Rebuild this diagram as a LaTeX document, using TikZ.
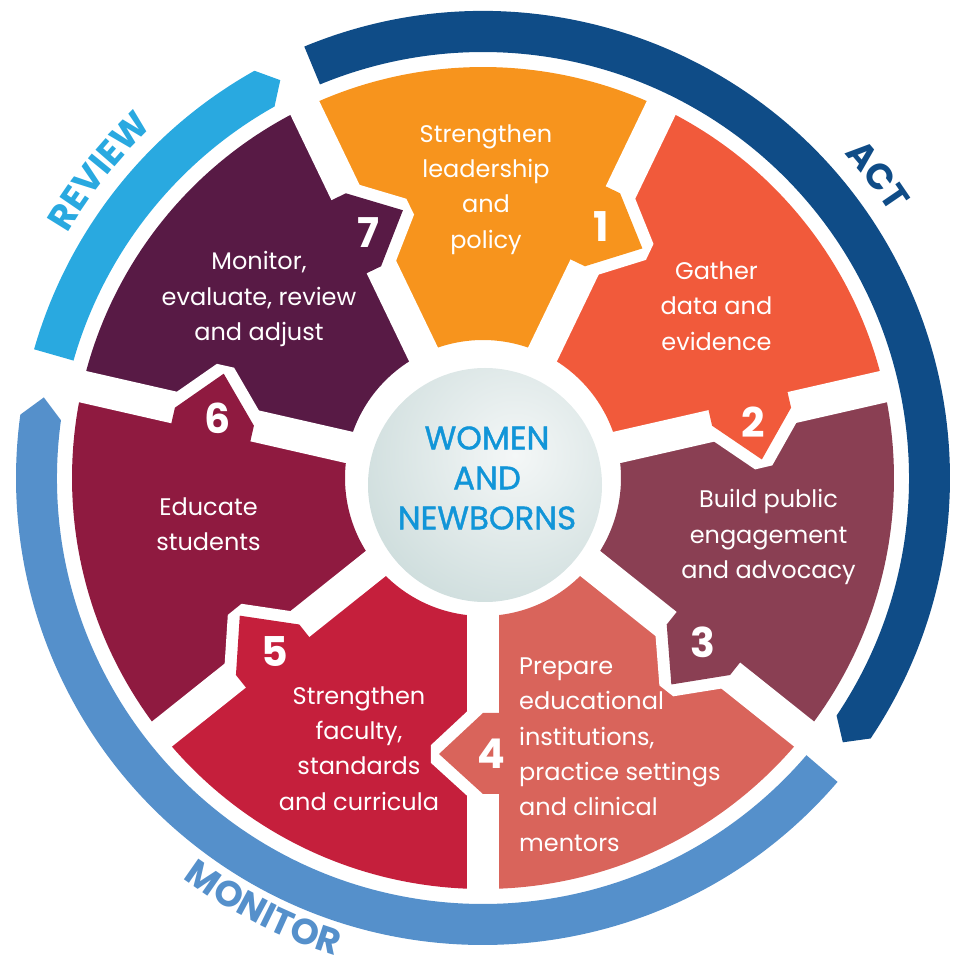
\documentclass[tikz,border=0pt]{standalone}
\usepackage{fontspec}
\setmainfont{Poppins}
\newfontfamily\popmed[FakeBold=1.2]{Poppins}
\usetikzlibrary{decorations.text}
\definecolor{s1}{HTML}{F7941D}
\definecolor{s2}{HTML}{F15A3B}
\definecolor{s3}{HTML}{8A3F53}
\definecolor{s4}{HTML}{D9645B}
\definecolor{s5}{HTML}{C51F3C}
\definecolor{s6}{HTML}{8F1A40}
\definecolor{s7}{HTML}{581A45}
\definecolor{actc}{HTML}{0F4C87}
\definecolor{revc}{HTML}{29A9E0}
\definecolor{monc}{HTML}{5590CB}
\definecolor{ctrtext}{HTML}{1195D8}
\definecolor{ballout}{HTML}{B2CAC9}
\definecolor{ballin}{HTML}{F4F7F7}
\begin{document}
\begin{tikzpicture}[x=1pt,y=1pt,
  segtext/.style={text=white, font=\fontsize{24}{35.3}\selectfont, align=center, inner sep=0pt},
  numtext/.style={text=white, font=\fontsize{41}{41}\selectfont\bfseries, inner sep=0pt},
  ctrnode/.style={text=ctrtext, font=\popmed\fontsize{32.5}{40}\selectfont, align=center, inner sep=0pt},
  gapline/.style={white, line width=32pt},
  tabgap/.style={white, line width=24pt, line join=bevel}]
\useasboundingbox (-483,-490) rectangle (469,478);

% outer rings
\fill[actc] (112.5:467) arc[start angle=112.5, end angle=-33.9, radius=467]
  -- (-36.3:446.5) -- (-33.9:426) arc[start angle=-33.9, end angle=112.5, radius=426] -- cycle;
\fill[revc] (164:467) arc[start angle=164, end angle=119.3, radius=467]
  -- (117:446.5) -- (119.3:426) arc[start angle=119.3, end angle=164, radius=426] -- cycle;
\fill[monc] (319.4:467) arc[start angle=319.4, end angle=172.2, radius=467]
  -- (169.6:446.5) -- (172.2:426) arc[start angle=172.2, end angle=319.4, radius=426] -- cycle;

% ring labels
\path[decorate, decoration={text along path, text align=center, text color=revc,
  text={|\fontsize{36}{36}\selectfont\bfseries|REVIEW}}]
  (166:482) arc[start angle=166, end angle=116.8, radius=482];
\path[decorate, decoration={text along path, text align=center, text color=actc,
  text={|\fontsize{36}{36}\selectfont\bfseries|ACT}}]
  (62:486) arc[start angle=62, end angle=13, radius=486];
\path[decorate, decoration={text along path, text align=center, text color=monc,
  text={|\fontsize{36}{36}\selectfont\bfseries|MONITOR}}]
  (-147:500) arc[start angle=-147, end angle=-87, radius=500];

% segments
\foreach \k/\col in {1/s1,2/s2,3/s3,4/s4,5/s5,6/s6,7/s7} {
  \pgfmathsetmacro{\cA}{90-(\k-1)*360/7}
  \pgfmathsetmacro{\bA}{\cA-180/7}
  \pgfmathsetmacro{\aA}{\cA+180/7}
  \fill[\col] (\bA:411) arc[start angle=\bA, end angle=\aA, radius=411]
    -- (\aA:138) arc[start angle=\aA, end angle=\bA, radius=138] -- cycle;
}
% white gaps
\foreach \k in {1,...,7} {
  \pgfmathsetmacro{\bA}{90-(\k-1)*360/7-180/7}
  \draw[gapline] (\bA:110) -- (\bA:420);
}
% tabs
\foreach \k/\col in {1/s1,2/s2,3/s3,4/s4,5/s5,6/s6,7/s7} {
  \pgfmathsetmacro{\bA}{90-(\k-1)*360/7-180/7}
  \begin{scope}[rotate=\bA]
    \draw[tabgap] (235,0) -- (276,-44) -- (316,0);
    \fill[\col] (235,17) -- (235,0) -- (276,-44) -- (316,0) -- (316,17) -- cycle;
  \end{scope}
}

% centre ball
\begin{scope}
  \clip (2,-7) circle (117);
  \shade[inner color=ballin, outer color=ballout] (32,23) circle (290);
\end{scope}
\node[ctrnode] (ctr) at (4,0) {WOMEN\\AND\\NEWBORNS};

% segment texts
\node[segtext] (t1) at (3,288.5) {Strengthen\\leadership\\and\\policy};
\node[segtext] (t2) at (233.5,172) {Gather\\data and\\evidence};
\node[segtext] (t3) at (285.5,-59) {Build public\\engagement\\and advocacy};
\node[segtext, align=left, anchor=west] (t4) at (36,-276.5) {Prepare\\educational\\institutions,\\practice settings\\and clinical\\mentors};
\node[segtext] (t5) at (-124,-270.5) {Strengthen\\faculty,\\standards\\and curricula};
\node[segtext] (t6) at (-274.5,-46) {Educate\\students};
\node[segtext] (t7) at (-224,179) {Monitor,\\evaluate, review\\and adjust};

% numbers
\node[numtext] (n1) at (118,251) {1};
\node[numtext] (n2) at (270,56) {2};
\node[numtext] (n3) at (220,-164) {3};
\node[numtext] (n4) at (8,-276) {4};
\node[numtext] (n5) at (-208,-174) {5};
\node[numtext] (n6) at (-265,60) {6};
\node[numtext] (n7) at (-115,245) {7};
\end{tikzpicture}
\end{document}
